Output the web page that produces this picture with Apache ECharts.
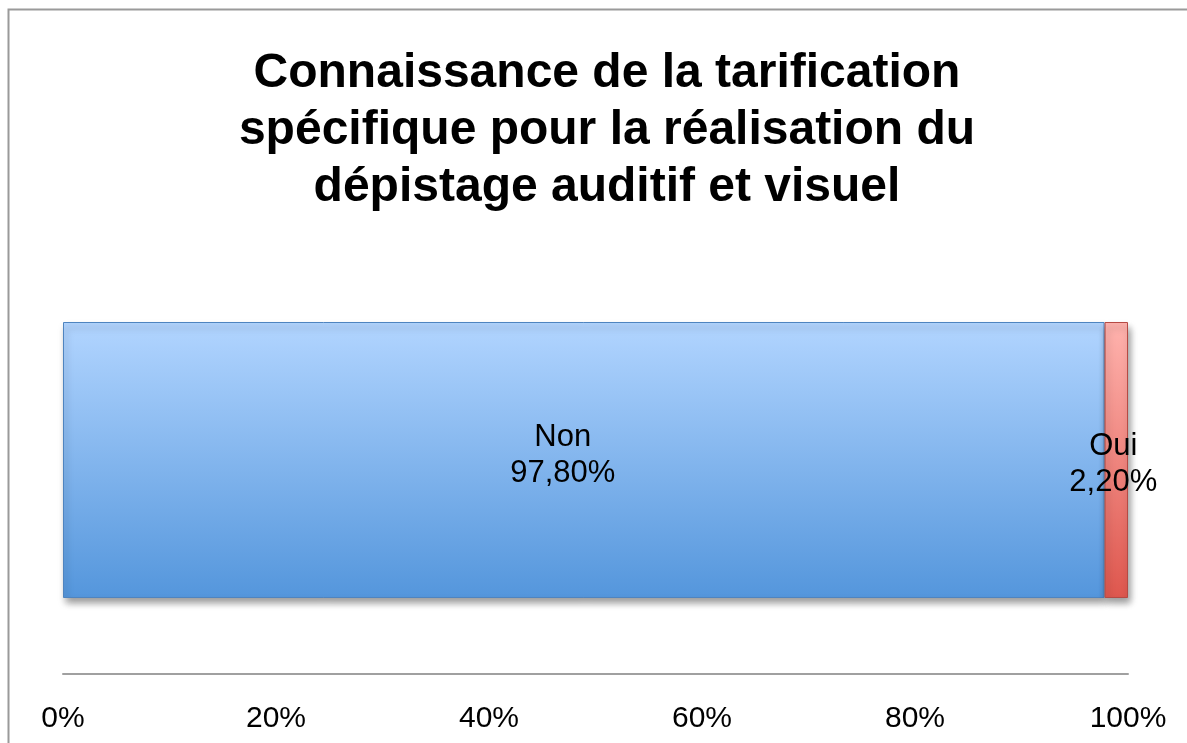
<!DOCTYPE html>
<html>
<head>
<meta charset="utf-8">
<script src="https://cdn.jsdelivr.net/npm/echarts@6/dist/echarts.min.js"></script>
<style>
  html, body { margin: 0; padding: 0; background: #fff; }
  #chart { width: 1187px; height: 743px; }
</style>
</head>
<body>
<div id="chart"></div>
<script>
var titleText = 'Connaissance de la tarification\nspécifique pour la réalisation du\ndépistage auditif et visuel';
var categories = [''];
var seriesNames = ['Non', 'Oui'];
var nonValues = [97.8];
var ouiValues = [2.2];
var tickLabels = ['0%', '20%', '40%', '60%', '80%', '100%'];

var chart = echarts.init(document.getElementById('chart'));

function grad(top, bottom) {
    return new echarts.graphic.LinearGradient(0, 0, 0, 1, [
        { offset: 0, color: top },
        { offset: 1, color: bottom }
    ]);
}

function pct(v) {
    return v.toFixed(2).replace('.', ',') + '%';
}

function labelStyle(offset) {
    return {
        show: true,
        position: 'inside',
        offset: offset,
        color: '#000',
        fontSize: 31,
        lineHeight: 36,
        fontFamily: 'Liberation Sans, Arial, sans-serif',
        formatter: function (p) { return p.seriesName + '\n' + pct(p.value); }
    };
}

var option = {
    animation: false,
    graphic: [{
        type: 'rect',
        shape: { x: 8.5, y: 9.5, width: 1300, height: 900 },
        style: { fill: 'none', stroke: '#9a9a9a', lineWidth: 2 }
    }],
    title: {
        text: titleText,
        left: 602,
        textAlign: 'center',
        top: 40,
        textStyle: {
            fontFamily: 'Liberation Sans, Arial, sans-serif',
            fontSize: 48,
            fontWeight: 'bold',
            lineHeight: 57,
            color: '#000'
        }
    },
    grid: { left: 63, right: 59, top: 246, bottom: 69 },
    xAxis: {
        type: 'value',
        min: 0,
        max: 100,
        interval: 20,
        axisLine: { show: true, lineStyle: { color: '#a0a0a0', width: 2 } },
        axisTick: { show: false },
        splitLine: { show: false },
        axisLabel: {
            margin: 30,
            color: '#000',
            fontSize: 30,
            fontFamily: 'Liberation Sans, Arial, sans-serif',
            formatter: function (v) { return tickLabels[v / 20]; }
        }
    },
    yAxis: {
        type: 'category',
        data: categories,
        axisLine: { show: false },
        axisTick: { show: false },
        axisLabel: { show: false }
    },
    series: [{
        name: seriesNames[0],
        type: 'bar',
        stack: 'total',
        barWidth: 276,
        data: nonValues,
        label: labelStyle([-21, -5]),
        itemStyle: {
            color: grad('#b2d5ff', '#5496dc'),
            borderColor: '#4f84bf',
            borderWidth: 1,
            shadowColor: 'rgba(0,0,0,0.4)',
            shadowBlur: 7,
            shadowOffsetY: 5,
            shadowOffsetX: 2
        }
    }, {
        name: seriesNames[1],
        type: 'bar',
        stack: 'total',
        barWidth: 276,
        data: ouiValues,
        label: labelStyle([-3, 4]),
        itemStyle: {
            color: grad('#ffb3ae', '#de574e'),
            borderColor: '#b54a44',
            borderWidth: 1,
            shadowColor: 'rgba(0,0,0,0.4)',
            shadowBlur: 7,
            shadowOffsetY: 5,
            shadowOffsetX: 2
        }
    }]
};

chart.setOption(option);
</script>
</body>
</html>
